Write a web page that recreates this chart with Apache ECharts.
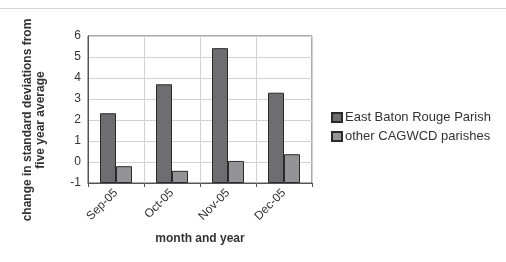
<!DOCTYPE html>
<html>
<head>
<meta charset="utf-8">
<script src="https://cdn.jsdelivr.net/npm/echarts@6/dist/echarts.min.js"></script>
<style>
html, body { margin: 0; padding: 0; background: #ffffff; }
#chart { width: 506px; height: 262px; }
</style>
</head>
<body>
<div id="chart"></div>
<script>
// data
var months = ["Sep-05", "Oct-05", "Nov-05", "Dec-05"];
var eastBatonRouge = [2.32, 3.70, 5.42, 3.30];
var otherParishes = [-0.2, -0.42, 0.05, 0.37];
var yMin = -1;
var yMax = 6;

// bars in the original start at the axis floor (-1), so stack them on an invisible base
var baseVals = months.map(function() { return yMin; });
function fromFloor(arr) {
	return arr.map(function(v) { return v - yMin; });
}

var font = "Liberation Sans, Arial, sans-serif";
var chart = echarts.init(document.getElementById("chart"));

var option = {
	animation: false,
	textStyle: { fontFamily: font },
	grid: {
		left: 88, top: 36, width: 224, height: 147,
		show: true, borderColor: "#555", borderWidth: 1
	},
	legend: {
		orient: "vertical",
		left: 326, top: 105,
		itemWidth: 10, itemHeight: 9, itemGap: 4,
		icon: "rect",
		textStyle: { fontSize: 13, color: "#333", fontFamily: font, padding: [0, 0, 0, -2], lineHeight: 15 },
		data: ["East Baton Rouge Parish", "other CAGWCD parishes"]
	},
	xAxis: {
		type: "category",
		data: months,
		axisLine: { onZero: false, lineStyle: { color: "#555" } },
		axisTick: { show: true, length: 4, lineStyle: { color: "#555" } },
		axisLabel: { rotate: 45, fontSize: 12, color: "#333", margin: 8 },
		splitLine: { show: true, lineStyle: { color: "#d2d2d2" } }
	},
	yAxis: {
		type: "value",
		min: yMin, max: yMax, interval: 1,
		axisLine: { show: true, lineStyle: { color: "#555" } },
		axisTick: { show: false },
		axisLabel: { fontSize: 12, color: "#333", margin: 7 },
		splitLine: { lineStyle: { color: "#d2d2d2" } }
	},
	series: [{
		name: "base1", type: "bar", stack: "a", stackStrategy: "all",
		data: baseVals, itemStyle: { color: "transparent" },
		barWidth: 16, barGap: "0%", silent: true
	}, {
		name: "East Baton Rouge Parish", type: "bar", stack: "a", stackStrategy: "all",
		data: fromFloor(eastBatonRouge),
		itemStyle: { color: "#6e6e72", borderColor: "#2a2a2a", borderWidth: 1 },
		barWidth: 16, barGap: "0%"
	}, {
		name: "base2", type: "bar", stack: "b", stackStrategy: "all",
		data: baseVals, itemStyle: { color: "transparent" },
		barWidth: 16, barGap: "0%", silent: true
	}, {
		name: "other CAGWCD parishes", type: "bar", stack: "b", stackStrategy: "all",
		data: fromFloor(otherParishes),
		itemStyle: { color: "#949497", borderColor: "#2a2a2a", borderWidth: 1 },
		barWidth: 16, barGap: "0%"
	}],
	graphic: [{
		type: "line", silent: true,
		shape: { x1: 0, y1: 8.5, x2: 506, y2: 8.5 },
		style: { stroke: "#d4d4d4", lineWidth: 1 }
	}, {
		type: "text", x: 34, y: 120, rotation: Math.PI / 2,
		style: {
			text: "change in standard deviations from\nfive year average",
			font: "bold 12px " + font, fill: "#333",
			align: "center", verticalAlign: "middle", lineHeight: 13
		}
	}, {
		type: "text", x: 200, y: 239,
		style: {
			text: "month and year",
			font: "bold 12px " + font, fill: "#333",
			align: "center", verticalAlign: "middle"
		}
	}]
};

chart.setOption(option);
</script>
</body>
</html>
